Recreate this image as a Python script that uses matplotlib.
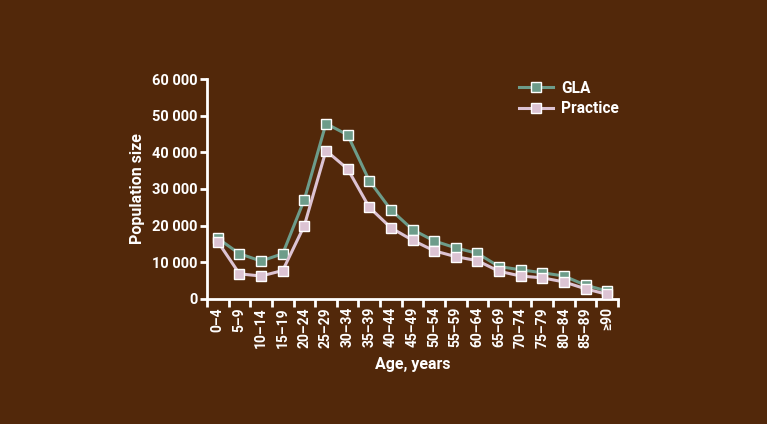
import matplotlib
matplotlib.use("Agg")
import matplotlib.pyplot as plt
import numpy as np

categories = ["0\u20134", "5\u20139", "10\u201314", "15\u201319", "20\u201324", "25\u201329", "30\u201334",
              "35\u201339", "40\u201344", "45\u201349", "50\u201354", "55\u201359", "60\u201364", "65\u201369",
              "70\u201374", "75\u201379", "80\u201384", "85\u201389", "\u226590"]
gla = [16500, 12300, 10300, 12300, 27100, 47900, 44800, 32300, 24300, 18900, 15800, 13900,
       12400, 8800, 7900, 7100, 6200, 3700, 2100]
practice = [15600, 6800, 6200, 7700, 20000, 40500, 35500, 25000, 19400, 16000, 13100, 11500,
            10400, 7500, 6200, 5700, 4600, 2700, 1200]
yticks = [0, 10000, 20000, 30000, 40000, 50000, 60000]
ytick_labels = ["0", "10 000", "20 000", "30 000", "40 000", "50 000", "60 000"]

bg = "#52280a"
green = "#6d9c8a"
pink = "#dcc3d3"
white = "#ffffff"

plt.rcParams['font.family'] = ['Roboto', 'DejaVu Sans']
plt.rcParams['font.weight'] = 'bold'

fig = plt.figure(figsize=(7.67, 4.24), dpi=100, facecolor=bg)
ax = fig.add_axes([207/767, 1-298.7/424, (618-207)/767, (298.7-79.3)/424])
ax.set_facecolor(bg)

x = np.arange(len(categories))
ax.plot(x, gla, color=green, lw=2.2, marker='s', ms=7, mfc=green, mec=white, mew=1.0,
        label="GLA", zorder=3, clip_on=False)
ax.plot(x, practice, color=pink, lw=2.2, marker='s', ms=7, mfc=pink, mec=white, mew=1.0,
        label="Practice", zorder=3, clip_on=False)

ax.set_xlim(-0.5, len(categories) - 0.5)
ax.set_ylim(0, 60000)

for s in ['top', 'right']:
    ax.spines[s].set_visible(False)
for s in ['left', 'bottom']:
    ax.spines[s].set_color(white)
    ax.spines[s].set_linewidth(2)

ax.set_yticks(yticks)
ax.set_yticklabels(ytick_labels, color=white, fontsize=10.5, fontweight='bold')
ax.tick_params(axis='y', colors=white, width=2, length=5, pad=2)

ax.set_xticks(x)
ax.set_xticklabels(categories, rotation=90, color=white, fontsize=10, fontweight='bold')
ax.tick_params(axis='x', which='major', length=0, pad=6)
ax.set_xticks(np.arange(-0.5, len(categories)), minor=True)
ax.tick_params(axis='x', which='minor', colors=white, width=2, length=6)

ax.set_ylabel("Population size", color=white, fontsize=11.5, fontweight='bold', labelpad=5)
ax.set_xlabel("Age, years", color=white, fontsize=11.5, fontweight='bold', labelpad=7)

leg = ax.legend(loc='upper left', bbox_to_anchor=(0.725, 1.058), frameon=False,
                handlelength=2.2, handletextpad=0.5, labelspacing=0.35,
                prop={'weight': 'bold', 'size': 11.2})
for t in leg.get_texts():
    t.set_color(white)

fig.savefig("out.png", dpi=100, facecolor=bg)
